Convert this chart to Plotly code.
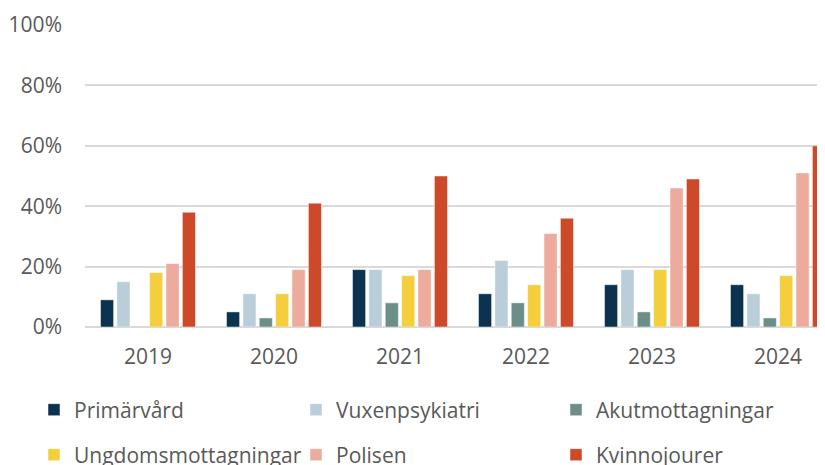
import plotly.graph_objects as go

years = ["2019", "2020", "2021", "2022", "2023", "2024"]
series_names = ["Primärvård", "Vuxenpsykiatri", "Akutmottagningar",
                "Ungdomsmottagningar", "Polisen", "Kvinnojourer"]
primarvard = [9, 5, 19, 11, 14, 14]
vuxenpsykiatri = [15, 11, 19, 22, 19, 11]
akutmottagningar = [None, 3, 8, 8, 5, 3]
ungdomsmottagningar = [18, 11, 17, 14, 19, 17]
polisen = [21, 19, 19, 31, 46, 51]
kvinnojourer = [38, 41, 50, 36, 49, 60]
colors = ["#0b3350", "#b9ced8", "#6b8e89", "#f4ce3c", "#ecab9c", "#cc4a29"]
values = [primarvard, vuxenpsykiatri, akutmottagningar,
          ungdomsmottagningar, polisen, kvinnojourer]
y_ticks = [0, 20, 40, 60, 80, 100]
y_tick_labels = ["0%", "20%", "40%", "60%", "80%", "100%"]

font_family = "Open Sans, Noto Sans, sans-serif"
text_color = "#595959"
fs = 21

# page has an 8px body margin: the figure is sized to fit the 825x465 window
W, H = 817, 457

# legend grid: 3 columns x 2 rows (pixel positions inside the figure)
legend_cols = [26, 288, 548]
legend_rows = [402, 447]

fig = go.Figure()
layout_legends = {}
for i, (name, vals, col) in enumerate(zip(series_names, values, colors)):
    key = "legend" if i == 0 else f"legend{i + 1}"
    fig.add_trace(go.Bar(
        x=years, y=vals, name=name,
        marker=dict(color=col, line=dict(color="rgba(255,255,255,0.6)", width=0.8)),
        legend=key,
    ))
    layout_legends[key] = dict(
        orientation="h", xref="container", yref="container",
        x=legend_cols[i % 3] / W, y=1 - legend_rows[i // 3] / H,
        xanchor="left", yanchor="middle",
        font=dict(family=font_family, size=fs, color=text_color),
        bgcolor="rgba(0,0,0,0)", itemclick=False, itemdoubleclick=False,
    )

fig.update_layout(
    width=W, height=H,
    margin=dict(l=77, r=0, t=17, b=138, autoexpand=False),
    paper_bgcolor="white", plot_bgcolor="white",
    barmode="group", bargap=0.22, bargroupgap=0.2,
    font=dict(family=font_family, size=fs, color=text_color),
    showlegend=True,
    xaxis=dict(
        type="category", range=[-0.5, -0.5 + 740 / 126],
        showgrid=False, showline=False, zeroline=False, ticks="",
        tickfont=dict(family=font_family, size=fs, color=text_color),
        ticklabelstandoff=15,
    ),
    yaxis=dict(
        range=[0, 100], tickvals=y_ticks, ticktext=y_tick_labels,
        showgrid=True, gridcolor="#d9d9d9", gridwidth=1.5,
        zeroline=True, zerolinecolor="#d9d9d9", zerolinewidth=1.5,
        showline=False, ticks="",
        tickfont=dict(family=font_family, size=fs, color=text_color),
        ticklabelstandoff=22,
    ),
    **layout_legends,
)

fig.write_html("out.html")
